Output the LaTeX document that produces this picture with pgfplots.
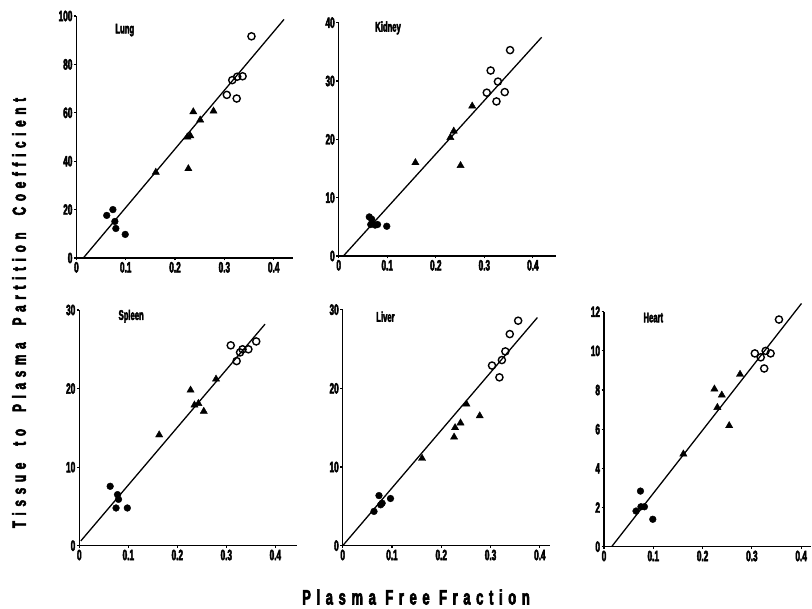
\documentclass[border=0pt]{standalone}
\usepackage{fontspec}
\setmainfont{Liberation Sans}
\newfontfamily\condensed{Liberation Sans}[FakeStretch=0.55, FakeBold=3]
\newfontfamily\spacedy{Liberation Sans}[FakeStretch=0.62, LetterSpace=30, FakeBold=3]
\newfontfamily\spacedx{Liberation Sans}[FakeStretch=0.62, LetterSpace=27, FakeBold=3]
\usepackage{pgfplots}
\pgfplotsset{compat=1.18}

\tikzset{organname/.style={font=\condensed\bfseries\fontsize{14}{14}\selectfont, anchor=west}}
\newcommand{\gap}{\hspace{0.45em}}
\newcommand{\wgap}{\hspace{0.9em}}

\pgfplotsset{
  organ/.style={
    scale only axis, axis lines=left,
    axis line style={line width=1.5pt, -},
    xmin=0, ymin=0,
    xtick={0,0.1,0.2,0.3,0.4}, xticklabels={0,0.1,0.2,0.3,0.4},
    tick align=outside, major tick length=2.5pt,
    tick style={line width=1.1pt, black},
    tick label style={font=\condensed\bfseries\fontsize{15}{15}\selectfont},
    /pgf/number format/assume math mode=true,
    xticklabel style={yshift=2pt}, yticklabel style={xshift=2pt},
    clip=false, anchor=south west,
  },
  fc/.style={only marks, mark=*, mark size=3.4, black},
  tri/.style={only marks, mark=triangle*, mark size=4.2, black},
  oc/.style={only marks, mark=o, mark size=3.6, black, mark options={line width=1.4pt}},
  fit/.style={black, line width=1.3pt, no marks},
}

\begin{document}
\begin{tikzpicture}
\useasboundingbox (0,0) rectangle (812bp,609bp);

% Lung
\begin{axis}[organ, at={(76.4bp,351bp)}, width=217bp, height=242bp,
  xmax=0.44, ymax=100, ytick={0,20,40,60,80,100}]
  \addplot[fit] coordinates {(0.014,0) (0.421,98.6)};
  \addplot[fc] coordinates {(0.0615,17.6) (0.074,20.0) (0.078,15.1) (0.080,12.2) (0.099,9.75)};
  \addplot[tri] coordinates {(0.161,35.4) (0.227,36.9) (0.225,50.0) (0.231,50.5) (0.237,60.4) (0.251,57.0) (0.278,60.7)};
  \addplot[oc] coordinates {(0.305,67.4) (0.325,65.9) (0.316,73.5) (0.326,74.9) (0.337,75.1) (0.355,91.6)};
  \node[organname] at (axis cs:0.072,94.2) {Lung};
\end{axis}

% Kidney
\begin{axis}[organ, at={(338.7bp,353bp)}, width=217bp, height=233.3bp,
  xmax=0.447, ymax=40, ytick={0,10,20,30,40}]
  \addplot[fit] coordinates {(0.0096,0) (0.418,37.5)};
  \addplot[fc] coordinates {(0.063,6.7) (0.068,6.3) (0.066,5.4) (0.075,5.3) (0.080,5.4) (0.099,5.1)};
  \addplot[tri] coordinates {(0.158,16.0) (0.251,15.5) (0.230,20.3) (0.237,21.4) (0.275,25.7)};
  \addplot[oc] coordinates {(0.305,28.0) (0.313,31.8) (0.325,26.5) (0.328,29.9) (0.342,28.1) (0.353,35.3)};
  \node[organname] at (axis cs:0.068,39.1) {Kidney};
\end{axis}

% Spleen
\begin{axis}[organ, at={(79.3bp,63.3bp)}, width=217.6bp, height=235.7bp,
  xmax=0.444, ymax=30, ytick={0,10,20,30}]
  \addplot[fit] coordinates {(0.003,0.6) (0.379,28.2)};
  \addplot[fc] coordinates {(0.063,7.56) (0.078,6.5) (0.080,5.9) (0.075,4.8) (0.098,4.8)};
  \addplot[tri] coordinates {(0.163,14.1) (0.227,19.8) (0.235,17.9) (0.243,18.1) (0.254,17.1) (0.279,21.2)};
  \addplot[oc] coordinates {(0.309,25.5) (0.321,23.5) (0.328,24.6) (0.333,25.0) (0.345,25.0) (0.361,26.0)};
  \node[organname] at (axis cs:0.073,29.2) {Spleen};
\end{axis}

% Liver
\begin{axis}[organ, at={(342.7bp,63.3bp)}, width=207bp, height=236bp,
  xmax=0.42, ymax=30, ytick={0,10,20,30}]
  \addplot[fit] coordinates {(0,0) (0.395,29.0)};
  \addplot[fc] coordinates {(0.0635,4.36) (0.0736,6.37) (0.077,5.2) (0.080,5.4) (0.097,6.0)};
  \addplot[tri] coordinates {(0.161,11.1) (0.226,13.8) (0.228,15.0) (0.239,15.6) (0.251,18.0) (0.278,16.5)};
  \addplot[oc] coordinates {(0.303,22.9) (0.318,21.4) (0.323,23.6) (0.330,24.7) (0.339,26.9) (0.356,28.6)};
  \node[organname] at (axis cs:0.061,29.1) {Liver};
\end{axis}

% Heart
\begin{axis}[organ, at={(604bp,62.3bp)}, width=207bp, height=235bp,
  xmax=0.42, ymax=12, ytick={0,2,4,6,8,10,12}]
  \addplot[fit] coordinates {(0.0155,0) (0.4007,12.42)};
  \addplot[fc] coordinates {(0.065,1.82) (0.074,2.84) (0.075,2.04) (0.082,2.04) (0.099,1.40)};
  \addplot[tri] coordinates {(0.161,4.73) (0.224,8.05) (0.239,7.74) (0.230,7.11) (0.254,6.18) (0.276,8.80)};
  \addplot[oc] coordinates {(0.306,9.87) (0.318,9.67) (0.325,9.1) (0.328,10.0) (0.338,9.87) (0.355,11.6)};
  \node[organname] at (axis cs:0.073,11.7) {Heart};
\end{axis}

\node[rotate=90, font=\spacedy\bfseries\fontsize{19}{19}\selectfont] at (19bp,296bp)
  {Tissue\wgap to\wgap Plasma\wgap Partition\wgap Coefficient};
\node[font=\spacedx\bfseries\fontsize{21}{21}\selectfont] at (416bp,12bp)
  {Plasma\gap Free\gap Fraction};
\end{tikzpicture}
\end{document}
